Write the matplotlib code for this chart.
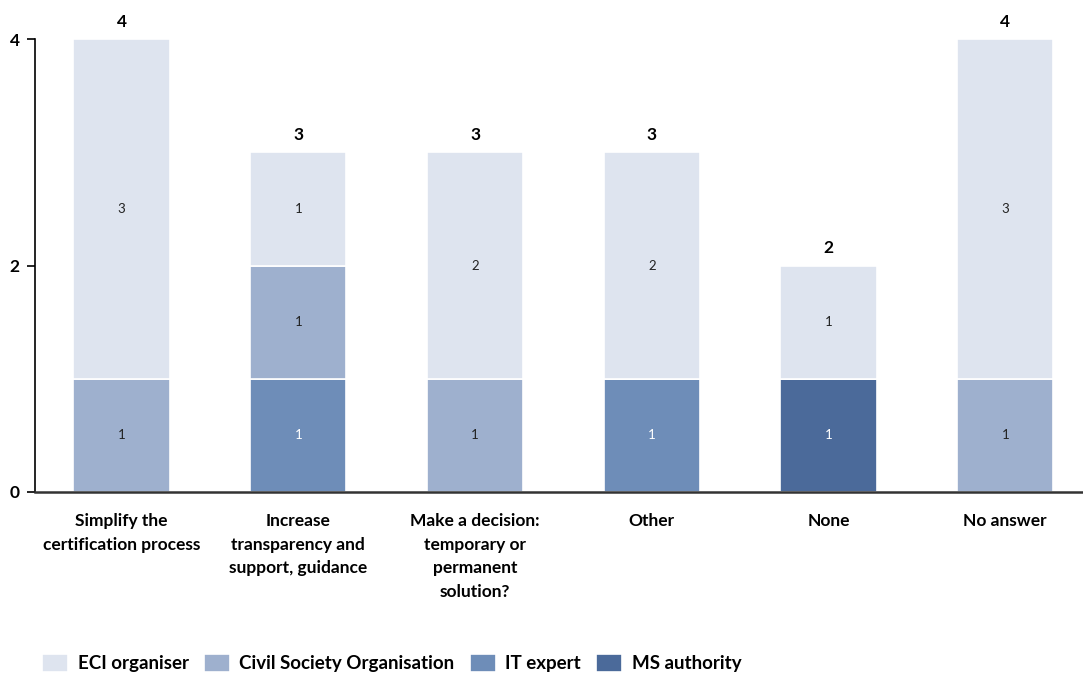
import matplotlib.pyplot as plt
import numpy as np

plt.rcParams['font.family'] = ['Lato', 'DejaVu Sans']

categories = ['Simplify the\ncertification process',
              'Increase\ntransparency and\nsupport, guidance',
              'Make a decision:\ntemporary or\npermanent\nsolution?',
              'Other', 'None', 'No answer']

# stacked from the bottom up
ms_authority = [0, 0, 0, 0, 1, 0]
it_expert = [0, 1, 0, 1, 0, 0]
civil_society = [1, 1, 1, 0, 0, 1]
eci_organiser = [3, 1, 2, 2, 1, 3]

series = [
    ('MS authority', ms_authority, '#4b6a9a', 'white'),
    ('IT expert', it_expert, '#6e8db8', 'white'),
    ('Civil Society Organisation', civil_society, '#9eb0ce', '#222222'),
    ('ECI organiser', eci_organiser, '#dee4ef', '#222222'),
]

fig = plt.figure(figsize=(10.83, 6.77), dpi=100)
ax = fig.add_axes([35 / 1083, 1 - 492 / 677, 1 - 35 / 1083, (492 - 39) / 677])

x = np.arange(len(categories))
bottom = np.zeros(len(categories))
handles = {}
for name, vals, color, txtcolor in series:
    vals = np.array(vals, dtype=float)
    bars = ax.bar(x, vals, width=0.545, bottom=bottom, color=color,
                  edgecolor='white', linewidth=1.2, zorder=2)
    handles[name] = bars
    for xi, b, v in zip(x, bottom, vals):
        if v > 0:
            ax.text(xi, b + v / 2, f'{int(v)}', ha='center', va='center',
                    fontsize=9.5, color=txtcolor)
    bottom += vals

for xi, total in zip(x, bottom):
    ax.text(xi, total + 0.08, f'{int(total)}', ha='center', va='bottom',
            fontsize=12.5, fontweight='bold', color='black', clip_on=False)

ax.set_xlim(-0.49, 5.44)
ax.set_ylim(0, 4)
ax.set_yticks([0, 2, 4])
ax.set_yticklabels(['0', '2', '4'], fontsize=12.5, fontweight='bold')
ax.set_xticks(x)
ax.set_xticklabels(categories, fontsize=12.5, fontweight='bold', linespacing=1.6)
ax.tick_params(axis='x', length=0, pad=15)
ax.tick_params(axis='y', length=6, width=1.2, pad=5)
for s in ['top', 'right']:
    ax.spines[s].set_visible(False)
ax.spines['left'].set_linewidth(1.2)
ax.spines['bottom'].set_linewidth(1.8)
ax.spines['bottom'].set_color('#333333')

order = ['ECI organiser', 'Civil Society Organisation', 'IT expert', 'MS authority']
fig.legend([handles[n] for n in order], order, loc='upper left',
           bbox_to_anchor=(0.032, 0.045), ncol=4, frameon=False,
           prop={'size': 13.5, 'weight': 'bold'}, handlelength=1.4,
           handleheight=1.1, columnspacing=0.8, handletextpad=0.5,
           borderaxespad=0)

fig.savefig('out.png', dpi=100)
